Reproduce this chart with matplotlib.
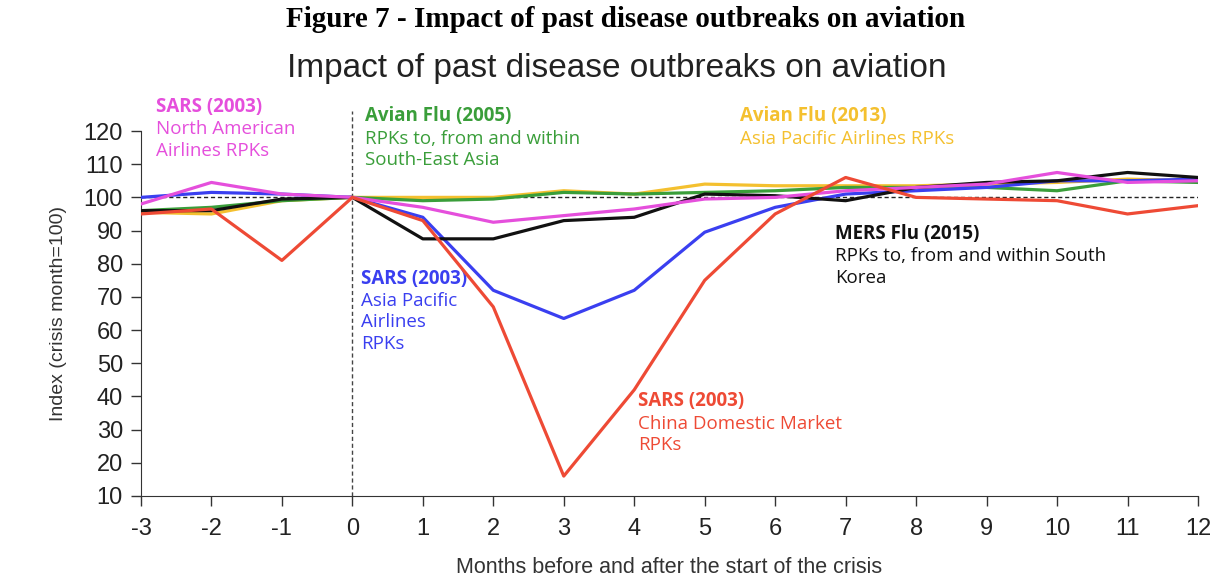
import matplotlib.pyplot as plt

# months relative to the crisis start
months = list(range(-3, 13))

# index values (crisis month = 100)
na_sars = [98, 104.5, 101, 100, 97, 92.5, 94.5, 96.5, 99.5, 100, 102, 103, 104, 107.5, 104.5, 105]
avian_2005 = [96, 97, 99, 100, 99, 99.5, 101.5, 101, 101.5, 102, 103, 103, 103, 102, 105, 104.5]
avian_2013 = [95.5, 95, 99, 100, 100, 100, 102, 101, 104, 103.5, 103.5, 103.5, 104, 104.5, 105.5, 105]
ap_sars = [100, 101.5, 101, 100, 94, 72, 63.5, 72, 89.5, 97, 101, 102, 103, 105, 105, 105.5]
mers = [96, 96, 99.5, 100, 87.5, 87.5, 93, 94, 101, 100.5, 99, 103, 104.5, 105, 107.5, 106]
china_sars = [95, 96.5, 81, 100, 93, 67, 16, 42, 75, 95, 106, 100, 99.5, 99, 95, 97.5]

yticks = list(range(10, 121, 10))

c_pink = '#e54fdc'
c_green = '#3a9e3a'
c_yellow = '#f4c02f'
c_blue = '#3a3ff0'
c_red = '#ee4a35'
c_black = '#111111'

fig = plt.figure(figsize=(12.15, 5.81), dpi=100)
ax = fig.add_axes([0.116, 0.1463, 0.870, 0.6282])

fig.text(0.515, 0.966, 'Figure 7 - Impact of past disease outbreaks on aviation',
         ha='center', va='center', fontsize=21, fontweight='bold', family='Liberation Serif')
fig.text(0.508, 0.882, 'Impact of past disease outbreaks on aviation',
         ha='center', va='center', fontsize=24, family='Liberation Sans', color='#222222')

# reference lines
ax.plot([-3, 12], [100, 100], color='#222222', lw=1, ls=(0, (3, 2)), zorder=1)
ax.plot([0, 0], [10, 126], color='#444444', lw=1, ls=(0, (3, 2)), zorder=1, clip_on=False)

lw = 2.3
ax.plot(months, avian_2013, color=c_yellow, lw=lw, zorder=2)
ax.plot(months, avian_2005, color=c_green, lw=lw, zorder=3)
ax.plot(months, ap_sars, color=c_blue, lw=lw, zorder=4)
ax.plot(months, mers, color=c_black, lw=lw, zorder=5)
ax.plot(months, na_sars, color=c_pink, lw=lw, zorder=6)
ax.plot(months, china_sars, color=c_red, lw=lw, zorder=7)

ax.set_xlim(-3, 12)
ax.set_ylim(10, 120)
ax.set_xticks(months)
ax.set_xticklabels([str(m) for m in months])
ax.set_yticks(yticks)
for lab in ax.get_xticklabels() + ax.get_yticklabels():
    lab.set_family('Liberation Sans')
    lab.set_fontsize(17)
    lab.set_color('#222222')
ax.tick_params(axis='both', direction='out', length=7, width=1, color='#333333')
ax.tick_params(axis='x', pad=9)
ax.tick_params(axis='y', pad=6)
ax.spines['top'].set_visible(False)
ax.spines['right'].set_visible(False)
ax.spines['left'].set_color('#333333')
ax.spines['bottom'].set_color('#333333')

ax.set_xlabel('Months before and after the start of the crisis', fontsize=15.5,
              family='Liberation Sans', color='#333333', labelpad=12)
ax.set_ylabel('Index (crisis month=100)', fontsize=14, family='Liberation Sans',
              color='#333333', labelpad=12)

# series annotations: bold header + body
notes = [
    (-2.78, 127.2, 'SARS (2003)', 'North American\nAirlines RPKs', c_pink),
    (0.18, 124.4, 'Avian Flu (2005)', 'RPKs to, from and within\nSouth-East Asia', c_green),
    (5.5, 124.4, 'Avian Flu (2013)', 'Asia Pacific Airlines RPKs', c_yellow),
    (6.85, 89.0, 'MERS Flu (2015)', 'RPKs to, from and within South\nKorea', c_black),
    (0.12, 75.5, 'SARS (2003)', 'Asia Pacific\nAirlines\nRPKs', c_blue),
    (4.05, 38.5, 'SARS (2003)', 'China Domestic Market\nRPKs', c_red),
]
for x, y, head, body, col in notes:
    ax.text(x, y, head, color=col, fontsize=13.5, fontweight='bold', family='Open Sans',
            va='center', ha='left', clip_on=False)
    ax.text(x, y - 4.0, body, color=col, fontsize=13.5, family='Open Sans',
            va='top', ha='left', linespacing=1.25, clip_on=False)

fig.savefig('out.png', dpi=100)
